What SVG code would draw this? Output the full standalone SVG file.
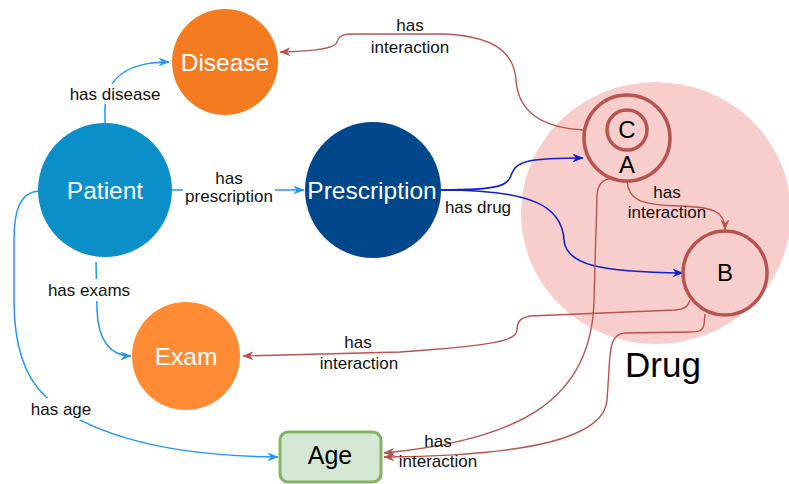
<svg xmlns="http://www.w3.org/2000/svg" width="789" height="484" viewBox="0 0 789 484">
  <defs>
    <marker id="arrow-light" viewBox="0 0 10 10" refX="9.5" refY="5" markerWidth="11" markerHeight="11" markerUnits="userSpaceOnUse" orient="auto">
      <path d="M0,1 L10,5 L0,9 L3,5 Z" fill="#2196f3"/>
    </marker>
    <marker id="arrow-dark" viewBox="0 0 10 10" refX="9.5" refY="5" markerWidth="11" markerHeight="11" markerUnits="userSpaceOnUse" orient="auto">
      <path d="M0,1 L10,5 L0,9 L3,5 Z" fill="#1020cc"/>
    </marker>
    <marker id="arrow-red" viewBox="0 0 10 10" refX="9.5" refY="5" markerWidth="11" markerHeight="11" markerUnits="userSpaceOnUse" orient="auto">
      <path d="M0,1 L10,5 L0,9 L3,5 Z" fill="#b85450"/>
    </marker>
  </defs>
  <style>
    .node-label { font-family: "Liberation Sans", Arial, sans-serif; font-size: 24.5px; fill: #ffffff; text-anchor: middle; }
    .drug-label { font-family: "Liberation Sans", Arial, sans-serif; font-size: 24px; fill: #000000; text-anchor: middle; }
    .edge-label { font-family: "Liberation Sans", Arial, sans-serif; font-size: 17px; fill: #111111; text-anchor: middle; }
    .edge-bg { fill: #ffffff; }
    .e-light { fill: none; stroke: #2196f3; stroke-width: 1.5; marker-end: url(#arrow-light); }
    .e-dark { fill: none; stroke: #1020cc; stroke-width: 1.6; marker-end: url(#arrow-dark); }
    .e-red { fill: none; stroke: #b85450; stroke-width: 1.4; marker-end: url(#arrow-red); }
    .drug-ring { fill: #f8cecc; stroke: #b85450; stroke-width: 3.5; }
  </style>

  <rect width="789" height="484" fill="#ffffff"/>

  <!-- Drug grouping area -->
  <g id="drug-group">
    <ellipse cx="656" cy="213" rx="135" ry="131" fill="#f8cecc"/>
    <text x="663" y="377" font-family="'Liberation Sans', Arial, sans-serif" font-size="35" fill="#000000" text-anchor="middle">Drug</text>
  </g>

  <!-- Connectors -->
  <g id="edges">
    <!-- Patient -> Disease -->
    <path class="e-light" d="M105,123 L105,108 C106,80 125,62 169,62"/>
    <rect class="edge-bg" x="66" y="84" width="97" height="20"/>
    <text class="edge-label" x="115" y="100">has disease</text>

    <!-- Patient -> Prescription -->
    <path class="e-light" d="M172,190 L304,190"/>
    <rect class="edge-bg" x="183" y="170" width="92" height="36"/>
    <text class="edge-label" x="229" y="184">has</text>
    <text class="edge-label" x="229" y="202">prescription</text>

    <!-- Patient -> Exam -->
    <path class="e-light" d="M96,262 L97,310 C98,340 110,356 131,356"/>
    <rect class="edge-bg" x="45" y="279" width="88" height="22"/>
    <text class="edge-label" x="89" y="296">has exams</text>

    <!-- Patient -> Age -->
    <path class="e-light" d="M38,191 C20,193 14,210 14,240 L14,300 C14,350 28,380 45,396 C80,428 150,456 278,457"/>
    <rect class="edge-bg" x="28" y="398" width="66" height="22"/>
    <text class="edge-label" x="61" y="415">has age</text>

    <!-- Prescription -> A -->
    <path class="e-dark" d="M441,190 C500,190 508,186 512,173 C516,161 530,158 583,158"/>
    <!-- Prescription -> B -->
    <path class="e-dark" d="M441,190 C530,190 562,205 564,240 C566,265 600,272 683,273"/>
    <text class="edge-label" x="478" y="213">has drug</text>

    <!-- C -> Disease -->
    <path class="e-red" d="M607,130 L585,130 C540,128 518,110 516,80 C514,50 490,35 440,34 L352,34 C340,34 338,38 337,42 C336,48 320,51 280,52"/>
    <text class="edge-label" x="410" y="31">has</text>
    <text class="edge-label" x="410" y="53">interaction</text>

    <!-- A -> B -->
    <path class="e-red" d="M627,180 C628,200 640,205 680,206 C715,207 725,212 725,230"/>
    <text class="edge-label" x="667" y="198">has</text>
    <text class="edge-label" x="667" y="218">interaction</text>

    <!-- B -> Exam -->
    <path class="e-red" d="M690,300 C688,306 686,309 675,310 L530,316 C520,318 517,322 517,330 C516,340 500,345 400,352 L243,356"/>
    <text class="edge-label" x="358" y="348">has</text>
    <text class="edge-label" x="359" y="369">interaction</text>

    <!-- A -> Age -->
    <path class="e-red" d="M621,177 C605,178 598,181 597,195 L594,300 C592,400 520,440 384,453"/>
    <!-- B -> Age -->
    <path class="e-red" d="M705,314 L704,325 C703,330 700,332 690,332 L625,333 C612,334 610,345 609,370 L607,400 C604,440 520,456 384,457"/>
    <text class="edge-label" x="438" y="447">has</text>
    <text class="edge-label" x="438" y="467">interaction</text>
  </g>

  <!-- Nodes -->
  <g id="node-disease">
    <circle cx="225" cy="62" r="53" fill="#f47b20"/>
    <text class="node-label" x="225" y="71">Disease</text>
  </g>
  <g id="node-patient">
    <circle cx="105" cy="190" r="67" fill="#0a8fc8"/>
    <text class="node-label" x="105" y="199">Patient</text>
  </g>
  <g id="node-prescription">
    <circle cx="373" cy="190" r="68" fill="#00478c"/>
    <text class="node-label" x="372" y="199">Prescription</text>
  </g>
  <g id="node-exam">
    <circle cx="186" cy="356" r="54" fill="#ff8c35"/>
    <text class="node-label" x="186" y="365">Exam</text>
  </g>
  <g id="node-age">
    <rect x="280" y="432" width="101" height="50" rx="8" ry="8" fill="#d5e8d4" stroke="#82b366" stroke-width="3"/>
    <text x="330" y="464" font-family="'Liberation Sans', Arial, sans-serif" font-size="25" fill="#000000" text-anchor="middle">Age</text>
  </g>
  <g id="node-a">
    <circle class="drug-ring" cx="627" cy="138" r="43"/>
    <text class="drug-label" x="627" y="173">A</text>
  </g>
  <g id="node-c">
    <circle class="drug-ring" cx="627" cy="130" r="20"/>
    <text class="drug-label" x="627" y="138">C</text>
  </g>
  <g id="node-b">
    <circle class="drug-ring" cx="725" cy="273" r="42"/>
    <text class="drug-label" x="725" y="281">B</text>
  </g>
</svg>
